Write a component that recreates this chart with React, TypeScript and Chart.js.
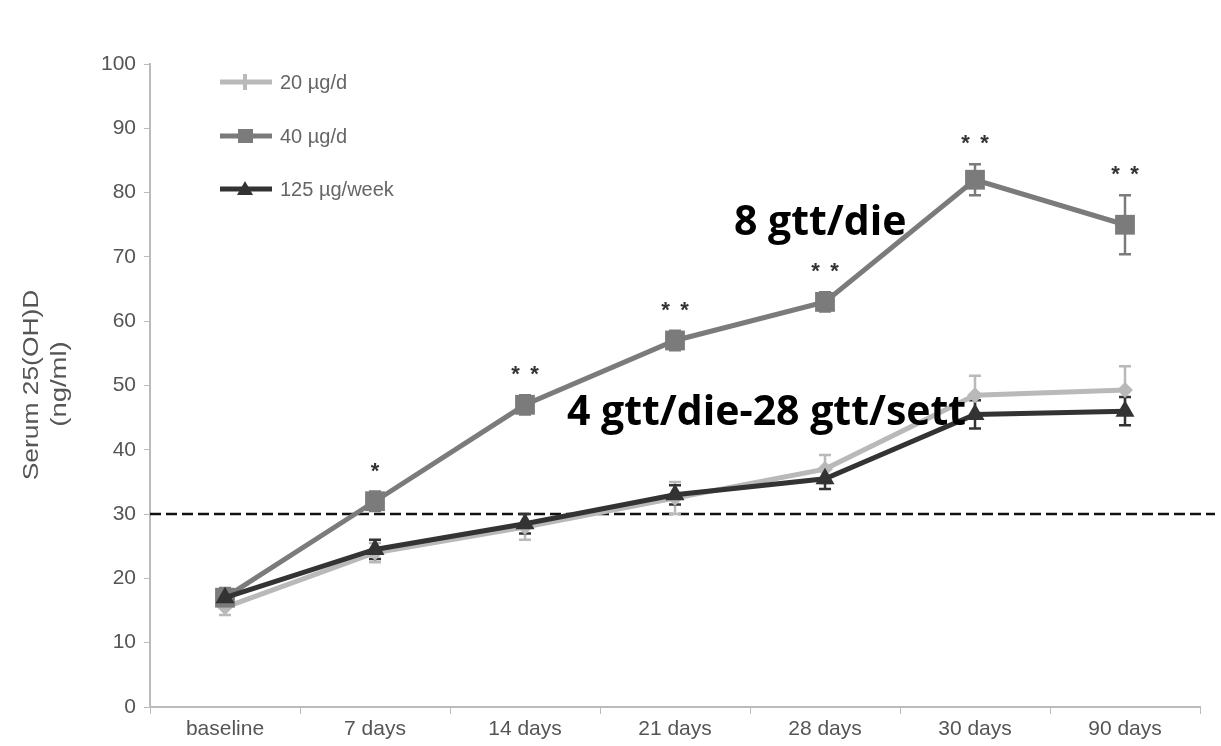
import React, { useEffect, useRef } from "react";
import { Chart, registerables } from "chart.js";

Chart.register(...registerables);

// Time points and serum 25(OH)D means (ng/ml) per dosing regimen
const timePoints = ["baseline", "7 days", "14 days", "21 days", "28 days", "30 days", "90 days"];
const dose20 = [15.5, 24, 28, 32.5, 37, 48.5, 49.3];
const dose40 = [17, 32, 47, 57, 63, 82, 75];
const dose125 = [17, 24.5, 28.5, 33, 35.5, 45.5, 46];

// Standard errors shown as whiskers
const err20 = [1.2, 1.5, 2, 2.5, 2.2, 3, 3.7];
const err40 = [1.5, 1.5, 1.5, 1.5, 1.5, 2.4, 4.6];
const err125 = [1.2, 1.5, 1.5, 1.5, 1.6, 2.2, 2.2];

// Significance markers for the 40 µg/d group
const significance = ["", "*", "**", "**", "**", "**", "**"];

const seriesNames = ["20 µg/d", "40 µg/d", "125 µg/week"];
const yTicks = [0, 10, 20, 30, 40, 50, 60, 70, 80, 90, 100];
const sufficiencyThreshold = 30;
const yAxisTitle = ["Serum 25(OH)D", "(ng/ml)"];
const annotationHigh = "8 gtt/die";
const annotationLow = "4 gtt/die-28 gtt/sett";

const COLORS = ["#b9b9b9", "#7b7b7b", "#333333"];
const POINT_STYLES = ["rectRot", "rect", "triangle"];
const POINT_RADII = [8, 14, 11];

const overlayPlugin = {
  id: "overlay",
  beforeDatasetsDraw(chart: any) {
    const { ctx, chartArea, scales } = chart;
    const y = scales.y;
    // dashed threshold line
    const yy = y.getPixelForValue(sufficiencyThreshold);
    ctx.save();
    ctx.strokeStyle = "#111";
    ctx.lineWidth = 2.5;
    ctx.setLineDash([11, 5]);
    ctx.beginPath();
    ctx.moveTo(chartArea.left, yy);
    ctx.lineTo(chartArea.right + 15, yy);
    ctx.stroke();
    ctx.restore();

    // error bars
    const errs = [err20, err40, err125];
    ctx.save();
    [0, 2, 1].forEach((i) => {
      const ds = chart.data.datasets[i];
      const meta = chart.getDatasetMeta(i);
      ctx.strokeStyle = COLORS[i];
      ctx.lineWidth = 2.5;
      meta.data.forEach((pt: any, j: number) => {
        const v = ds.data[j];
        const e = errs[i][j];
        const top = y.getPixelForValue(v + e);
        const bot = y.getPixelForValue(v - e);
        ctx.beginPath();
        ctx.moveTo(pt.x, top);
        ctx.lineTo(pt.x, bot);
        ctx.moveTo(pt.x - 6, top);
        ctx.lineTo(pt.x + 6, top);
        ctx.moveTo(pt.x - 6, bot);
        ctx.lineTo(pt.x + 6, bot);
        ctx.stroke();
      });
    });
    ctx.restore();
  },
  afterDatasetsDraw(chart: any) {
    const { ctx, scales } = chart;
    const y = scales.y;
    const meta = chart.getDatasetMeta(1);
    ctx.save();
    // significance stars
    ctx.fillStyle = "#333";
    ctx.font = "bold 22px 'Liberation Sans'";
    ctx.textAlign = "center";
    ctx.textBaseline = "middle";
    meta.data.forEach((pt: any, j: number) => {
      const s = significance[j];
      if (!s) return;
      const top = y.getPixelForValue(dose40[j] + err40[j]);
      const n = s.length;
      for (let k = 0; k < n; k++) {
        const dx = (k - (n - 1) / 2) * 19;
        ctx.fillText("*", pt.x + dx, top - 20);
      }
    });

    // dosing annotations
    ctx.fillStyle = "#000";
    ctx.font = "bold 41px 'Open Sans'";
    ctx.textAlign = "left";
    ctx.textBaseline = "alphabetic";
    ctx.fillText(annotationHigh, 734, 235);
    ctx.fillText(annotationLow, 567, 425);

    // legend
    const legendY = [82, 136, 189];
    seriesNames.forEach((name, i) => {
      const ly = legendY[i];
      ctx.strokeStyle = COLORS[i];
      ctx.fillStyle = COLORS[i];
      ctx.lineWidth = 5;
      ctx.beginPath();
      ctx.moveTo(220, ly);
      ctx.lineTo(272, ly);
      ctx.stroke();
      if (i === 1) {
        ctx.fillRect(238, ly - 7, 15, 14);
      } else if (i === 2) {
        ctx.beginPath();
        ctx.moveTo(245, ly - 8);
        ctx.lineTo(253, ly + 6);
        ctx.lineTo(237, ly + 6);
        ctx.closePath();
        ctx.fill();
      } else {
        ctx.fillRect(243, ly - 8, 4, 16);
      }
      ctx.fillStyle = "#666";
      ctx.font = "20px 'Liberation Sans'";
      ctx.textBaseline = "middle";
      ctx.textAlign = "left";
      ctx.fillText(name, 280, ly + 1);
    });

    // y axis title (two rotated lines)
    ctx.fillStyle = "#555";
    ctx.textAlign = "center";
    ctx.textBaseline = "middle";
    ctx.font = "22px 'Liberation Sans'";
    ctx.save();
    ctx.translate(32, 385);
    ctx.rotate(-Math.PI / 2);
    ctx.scale(1.2, 1);
    ctx.fillText(yAxisTitle[0], 0, 0);
    ctx.restore();
    ctx.save();
    ctx.translate(60, 384);
    ctx.rotate(-Math.PI / 2);
    ctx.scale(1.25, 1);
    ctx.fillText(yAxisTitle[1], 0, 0);
    ctx.restore();
    ctx.restore();
  },
};

export default function App() {
  const canvasRef = useRef<HTMLCanvasElement | null>(null);

  useEffect(() => {
    if (!canvasRef.current) return;
    const series = [dose20, dose40, dose125];
    const chart = new Chart(canvasRef.current, {
      type: "line",
      data: {
        labels: timePoints,
        datasets: series.map((d, i) => ({
          label: seriesNames[i],
          data: d,
          borderColor: COLORS[i],
          backgroundColor: COLORS[i],
          borderWidth: 5,
          pointStyle: POINT_STYLES[i] as any,
          pointRadius: POINT_RADII[i],
          pointBorderWidth: 0,
          tension: 0,
          order: [2, 1, 0][i],
        })),
      },
      options: {
        responsive: false,
        animation: false,
        layout: { padding: { top: 64, right: 21, left: 0, bottom: 0 } },
        plugins: { legend: { display: false }, tooltip: { enabled: false } },
        scales: {
          x: {
            type: "category",
            offset: true,
            afterFit: (s: any) => {
              s.height = 39;
            },
            grid: {
              offset: true,
              drawOnChartArea: false,
              tickLength: 7,
              color: "#bbb",
            },
            border: { color: "#bbb", width: 2 },
            ticks: {
              color: "#555",
              font: { family: "'Liberation Sans'", size: 21 },
              padding: 3,
              maxRotation: 0,
            },
          },
          y: {
            min: 0,
            max: 100,
            afterFit: (s: any) => {
              s.width = 150;
            },
            afterBuildTicks: (s: any) => {
              s.ticks = yTicks.map((v) => ({ value: v }));
            },
            grid: { drawOnChartArea: false, tickLength: 6, color: "#bbb" },
            border: { color: "#bbb", width: 2 },
            ticks: {
              color: "#555",
              font: { family: "'Liberation Sans'", size: 21 },
              padding: 8,
            },
          },
        },
      },
      plugins: [overlayPlugin],
    });
    return () => chart.destroy();
  }, []);

  return (
    <div style={{ position: "fixed", left: 0, top: 0, width: 1221, height: 746, background: "#fff" }}>
      <canvas ref={canvasRef} width={1221} height={746} />
    </div>
  );
}
